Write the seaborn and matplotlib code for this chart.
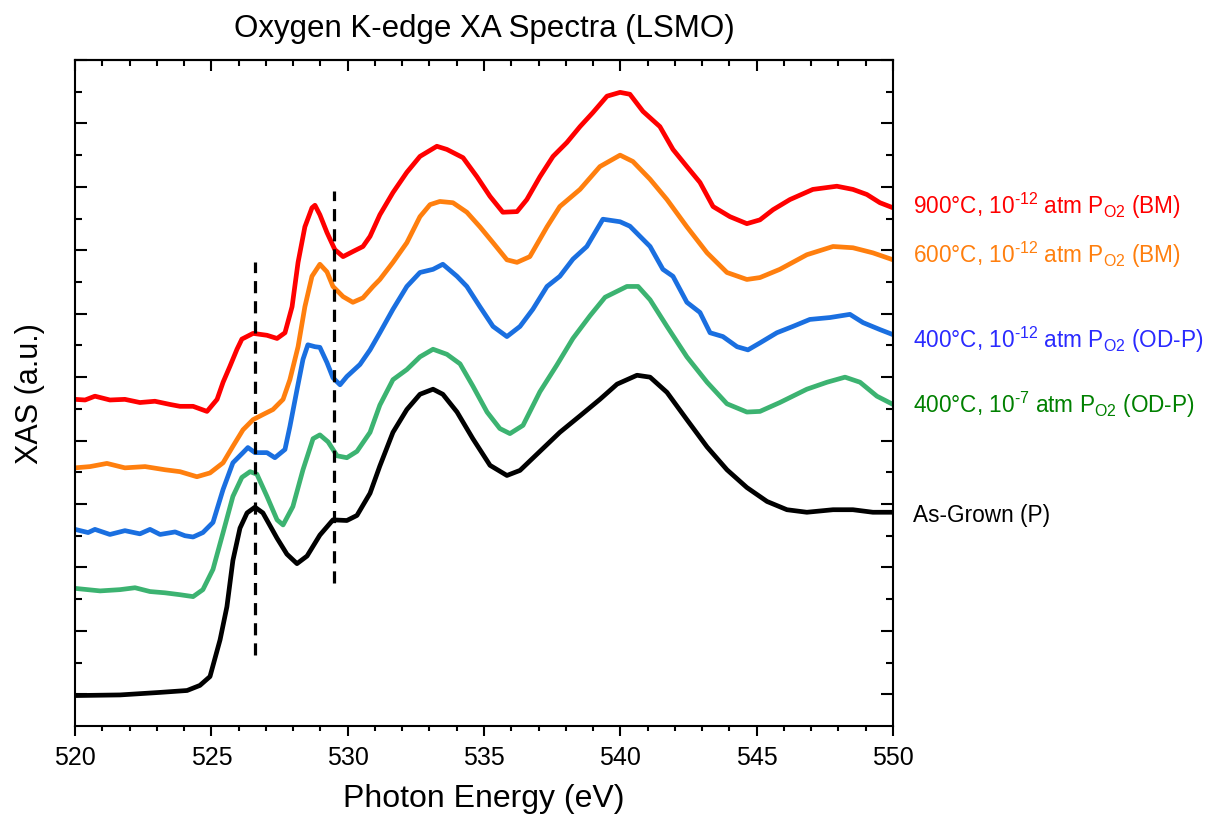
import numpy as np
import pandas as pd
import matplotlib
matplotlib.use("Agg")
import matplotlib.pyplot as plt
import seaborn as sns

# ---------------- data ----------------
black_x = [520.00, 521.65, 523.12, 524.11, 524.58, 524.95, 525.32, 525.57, 525.79, 526.05,
           526.31, 526.60, 526.89, 527.41, 527.77, 528.14, 528.51, 528.98, 529.46, 529.97,
           530.34, 530.82, 531.18, 531.66, 532.17, 532.65, 533.13, 533.49, 534.01, 534.59,
           535.22, 535.84, 536.32, 537.05, 537.78, 538.52, 539.25, 539.88, 540.61, 541.09,
           541.71, 542.44, 543.18, 543.91, 544.64, 545.38, 546.11, 546.84, 547.80, 548.53,
           549.26, 550.00]
black_y = [-0.02, -0.01, 0.03, 0.06, 0.14, 0.28, 0.86, 1.38, 2.11, 2.62,
           2.86, 2.95, 2.86, 2.46, 2.21, 2.06, 2.18, 2.51, 2.75, 2.74,
           2.82, 3.17, 3.60, 4.13, 4.49, 4.73, 4.81, 4.73, 4.45, 4.03,
           3.61, 3.45, 3.53, 3.83, 4.13, 4.39, 4.65, 4.89, 5.03, 5.00,
           4.76, 4.33, 3.90, 3.54, 3.26, 3.04, 2.91, 2.87, 2.91, 2.91,
           2.87, 2.87]

green_x = [520.00, 520.92, 521.65, 522.20, 522.75, 523.30, 523.85, 524.33, 524.69, 525.06,
           525.43, 525.79, 526.12, 526.42, 526.67, 527.04, 527.41, 527.63, 527.99, 528.36,
           528.73, 528.98, 529.28, 529.61, 529.97, 530.34, 530.82, 531.18, 531.66, 532.17,
           532.65, 533.13, 533.64, 534.12, 534.59, 535.11, 535.58, 535.95, 536.43, 537.05,
           537.67, 538.26, 538.89, 539.44, 540.24, 540.65, 541.09, 541.71, 542.44, 543.18,
           543.91, 544.64, 545.12, 545.85, 546.84, 547.58, 548.24, 548.79, 549.41, 550.00]
green_y = [1.67, 1.63, 1.65, 1.68, 1.62, 1.60, 1.57, 1.54, 1.65, 1.97,
           2.55, 3.12, 3.42, 3.51, 3.47, 3.12, 2.75, 2.67, 2.96, 3.54,
           4.03, 4.09, 3.98, 3.76, 3.73, 3.83, 4.13, 4.56, 4.96, 5.12,
           5.32, 5.44, 5.36, 5.21, 4.86, 4.45, 4.19, 4.11, 4.24, 4.77,
           5.19, 5.61, 5.97, 6.26, 6.43, 6.43, 6.22, 5.80, 5.32, 4.92,
           4.58, 4.45, 4.46, 4.60, 4.81, 4.92, 5.00, 4.92, 4.70, 4.57]

blue_x = [520.00, 520.48, 520.73, 521.28, 521.83, 522.38, 522.75, 523.12, 523.67, 524.03,
          524.33, 524.69, 525.06, 525.43, 525.79, 526.16, 526.34, 526.60, 527.04, 527.33,
          527.70, 527.88, 528.14, 528.36, 528.54, 528.80, 528.98, 529.24, 529.46, 529.72,
          529.97, 530.45, 530.82, 531.18, 531.66, 532.17, 532.65, 533.13, 533.49, 534.01,
          534.37, 534.85, 535.33, 535.84, 536.32, 536.79, 537.31, 537.78, 538.26, 538.77,
          539.36, 539.99, 540.35, 541.09, 541.56, 541.93, 542.44, 542.92, 543.29, 543.76,
          544.28, 544.68, 545.12, 545.74, 546.33, 546.95, 547.69, 548.42, 548.90, 549.52,
          550.00]
blue_y = [2.60, 2.55, 2.60, 2.52, 2.58, 2.53, 2.60, 2.52, 2.56, 2.50,
          2.48, 2.55, 2.71, 3.23, 3.65, 3.81, 3.89, 3.81, 3.81, 3.73,
          3.86, 4.22, 4.80, 5.28, 5.51, 5.48, 5.47, 5.23, 4.99, 4.88,
          5.01, 5.20, 5.43, 5.70, 6.07, 6.43, 6.65, 6.70, 6.78, 6.59,
          6.43, 6.11, 5.80, 5.64, 5.80, 6.07, 6.43, 6.59, 6.86, 7.06,
          7.49, 7.45, 7.38, 7.06, 6.70, 6.59, 6.18, 6.02, 5.70, 5.64,
          5.48, 5.43, 5.54, 5.70, 5.80, 5.91, 5.94, 5.99, 5.86, 5.75,
          5.67]

orange_x = [520.00, 520.55, 521.17, 521.83, 522.57, 523.30, 523.85, 524.47, 524.95, 525.43,
            525.79, 526.16, 526.53, 526.89, 527.26, 527.63, 527.88, 528.18, 528.43, 528.69,
            528.98, 529.24, 529.46, 529.83, 530.19, 530.56, 530.93, 531.18, 531.66, 532.17,
            532.65, 533.02, 533.38, 533.86, 534.37, 534.85, 535.33, 535.84, 536.21, 536.68,
            537.31, 537.78, 538.52, 539.25, 539.99, 540.46, 541.09, 541.71, 542.44, 543.18,
            543.91, 544.64, 545.12, 545.85, 546.84, 547.80, 548.53, 549.26, 550.00]
orange_y = [3.57, 3.59, 3.64, 3.57, 3.59, 3.54, 3.51, 3.43, 3.49, 3.65,
            3.91, 4.17, 4.33, 4.41, 4.49, 4.65, 4.96, 5.48, 6.11, 6.59,
            6.78, 6.66, 6.43, 6.27, 6.18, 6.25, 6.43, 6.54, 6.81, 7.12,
            7.53, 7.72, 7.77, 7.75, 7.60, 7.37, 7.12, 6.85, 6.81, 6.90,
            7.37, 7.69, 7.96, 8.32, 8.50, 8.40, 8.12, 7.80, 7.37, 6.96,
            6.65, 6.54, 6.57, 6.70, 6.93, 7.06, 7.04, 6.96, 6.85]

red_x = [520.00, 520.37, 520.73, 521.28, 521.83, 522.38, 522.93, 523.48, 523.85, 524.33,
         524.84, 525.21, 525.43, 525.68, 525.94, 526.12, 526.53, 527.04, 527.41, 527.70,
         527.96, 528.18, 528.43, 528.69, 528.80, 528.98, 529.24, 529.53, 529.83, 530.19,
         530.56, 530.82, 531.18, 531.66, 532.17, 532.65, 533.27, 533.64, 534.23, 534.74,
         535.22, 535.69, 536.21, 536.57, 537.05, 537.53, 538.04, 538.52, 538.99, 539.51,
         539.99, 540.35, 540.83, 541.45, 541.93, 542.44, 542.92, 543.40, 544.02, 544.64,
         545.12, 545.60, 546.22, 547.06, 547.94, 548.53, 549.04, 549.52, 550.00]
red_y = [4.65, 4.64, 4.70, 4.64, 4.65, 4.60, 4.62, 4.57, 4.54, 4.54,
         4.46, 4.65, 4.92, 5.17, 5.44, 5.60, 5.69, 5.66, 5.61, 5.70,
         6.11, 6.81, 7.37, 7.67, 7.71, 7.56, 7.28, 7.01, 6.90, 6.98,
         7.06, 7.22, 7.56, 7.91, 8.23, 8.48, 8.64, 8.59, 8.46, 8.16,
         7.85, 7.60, 7.61, 7.80, 8.16, 8.48, 8.70, 8.95, 9.17, 9.43,
         9.49, 9.46, 9.19, 8.95, 8.59, 8.32, 8.07, 7.69, 7.53, 7.42,
         7.48, 7.64, 7.80, 7.96, 8.01, 7.96, 7.88, 7.75, 7.67]

series_labels = [
    r"900°C, 10$^{\text{-12}}$ atm P$_{\mathrm{O2}}$ (BM)",
    r"600°C, 10$^{\text{-12}}$ atm P$_{\mathrm{O2}}$ (BM)",
    r"400°C, 10$^{\text{-12}}$ atm P$_{\mathrm{O2}}$ (OD-P)",
    r"400°C, 10$^{\text{-7}}$ atm P$_{\mathrm{O2}}$ (OD-P)",
    "As-Grown (P)",
]
label_y = [7.59, 6.81, 5.48, 4.46, 2.74]

# vertical guide lines (eV) and their extents (a.u.)
vline_x = [526.59, 529.49]
vline_ymin = [0.62, 1.76]
vline_ymax = [6.82, 7.93]

x_ticks = [520, 525, 530, 535, 540, 545, 550]

title = "Oxygen K-edge XA Spectra (LSMO)"
xlabel = "Photon Energy (eV)"
ylabel = "XAS (a.u.)"

# ---------------- styling ----------------
sns.set_theme(style="ticks")
plt.rcParams["font.family"] = ["Liberation Sans", "DejaVu Sans"]
plt.rcParams["mathtext.fontset"] = "custom"
plt.rcParams["mathtext.rm"] = "Liberation Sans"
plt.rcParams["mathtext.it"] = "Liberation Sans:italic"
plt.rcParams["mathtext.bf"] = "Liberation Sans:bold"
plt.rcParams["axes.linewidth"] = 1.5
plt.rcParams["text.color"] = "black"
plt.rcParams["axes.labelcolor"] = "black"
plt.rcParams["xtick.color"] = "black"
plt.rcParams["ytick.color"] = "black"
plt.rcParams["axes.edgecolor"] = "black"

line_colors = ["#FF0000", "#FF7F0E", "#1A6FE0", "#3CB371", "#000000"]
text_colors = ["#FF0000", "#FF7F0E", "#2A2AFF", "#008000", "#000000"]

fig = plt.figure(figsize=(12.14, 8.2), dpi=100)
ax = fig.add_axes([0.0618, 0.1134, 0.6738, 0.8122])

data = [(red_x, red_y), (orange_x, orange_y), (blue_x, blue_y),
        (green_x, green_y), (black_x, black_y)]
for (xs, ys), col in zip(data, line_colors):
    df = pd.DataFrame({"E": xs, "I": ys})
    sns.lineplot(data=df, x="E", y="I", ax=ax, color=col, linewidth=3.4,
                 sort=False, estimator=None)

for vx, y0, y1 in zip(vline_x, vline_ymin, vline_ymax):
    ax.plot([vx, vx], [y0, y1], color="black", linewidth=2.3,
            linestyle=(0, (3.8, 2.5)))

for lab, ly, tc in zip(series_labels, label_y, text_colors):
    ax.text(550.73, ly, lab, color=tc, fontsize=16.3, ha="left", va="baseline",
            clip_on=False)

ax.set_xlim(520, 550)
ax.set_ylim(-0.5, 10)
ax.set_xticks(x_ticks)
ax.set_xticks(np.arange(520, 550.1, 1), minor=True)
ax.set_yticks(np.arange(0, 10.1, 1))
ax.set_yticks(np.arange(0.5, 10, 1), minor=True)
ax.set_yticklabels([])
ax.set_xlabel("")
ax.set_ylabel("")
ax.tick_params(axis="x", which="major", direction="out", length=7, width=1.5,
               labelsize=18, pad=7, top=False, colors="black")
ax.tick_params(axis="x", which="minor", direction="out", length=3.6, width=1.5, top=False)
ax.tick_params(axis="y", which="major", direction="in", length=8.5, width=1.5,
               left=True, right=True)
ax.tick_params(axis="y", which="minor", direction="in", length=5, width=1.5,
               left=True, right=True)

sec = ax.secondary_xaxis("top")
sec.set_xticks(x_ticks)
sec.set_xticks(np.arange(520, 550.1, 1), minor=True)
sec.tick_params(axis="x", which="major", direction="in", length=8, width=1.5,
                labeltop=False)
sec.tick_params(axis="x", which="minor", direction="in", length=4, width=1.5)
sec.set_xticklabels([])

for s in ax.spines.values():
    s.set_linewidth(1.5)
    s.set_color("black")

ax.set_xlabel(xlabel, fontsize=23, labelpad=10, color="black")
ax.set_ylabel(ylabel, fontsize=22, labelpad=18, color="black")
ax.set_title(title, fontsize=22.5, pad=17, color="black")

fig.savefig("out.png", dpi=100, facecolor="white")
